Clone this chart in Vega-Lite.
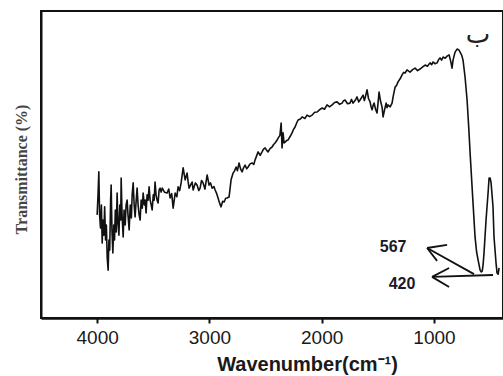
{
  "$schema": "https://vega.github.io/schema/vega-lite/v6.json",
  "width": 462,
  "height": 307,
  "autosize": {"type": "none"},
  "padding": {"left": 41, "top": 11, "right": 0, "bottom": 58},
  "background": "white",
  "config": {"view": {"stroke": "#111", "strokeWidth": 2}},
  "datasets": {
    "spectrum": [
      {"wn":4000,"t":33.6},{"wn":3992,"t":40.1},{"wn":3985,"t":47.6},{"wn":3978,"t":33.6},{"wn":3970,"t":29.3},
      {"wn":3962,"t":36.8},{"wn":3955,"t":24.4},{"wn":3948,"t":31.9},{"wn":3940,"t":27.0},{"wn":3933,"t":36.2},
      {"wn":3925,"t":25.4},{"wn":3918,"t":30.3},{"wn":3910,"t":19.5},{"wn":3902,"t":15.6},{"wn":3895,"t":25.4},
      {"wn":3888,"t":22.1},{"wn":3880,"t":38.4},{"wn":3875,"t":43.3},{"wn":3868,"t":28.7},{"wn":3860,"t":21.2},
      {"wn":3852,"t":30.3},{"wn":3845,"t":25.4},{"wn":3838,"t":35.2},{"wn":3830,"t":28.0},{"wn":3822,"t":40.7},
      {"wn":3815,"t":31.3},{"wn":3806,"t":27.0},{"wn":3798,"t":36.8},{"wn":3790,"t":31.9},{"wn":3786,"t":45.6},
      {"wn":3778,"t":33.6},{"wn":3768,"t":26.4},{"wn":3760,"t":35.2},{"wn":3750,"t":30.3},{"wn":3742,"t":36.8},
      {"wn":3733,"t":38.4},{"wn":3725,"t":33.6},{"wn":3715,"t":28.7},{"wn":3705,"t":36.8},{"wn":3695,"t":32.6},
      {"wn":3688,"t":40.1},{"wn":3679,"t":44.0},{"wn":3670,"t":36.8},{"wn":3662,"t":32.9},{"wn":3652,"t":38.4},
      {"wn":3644,"t":42.3},{"wn":3635,"t":36.8},{"wn":3626,"t":33.6},{"wn":3617,"t":31.9},{"wn":3608,"t":38.4},
      {"wn":3598,"t":35.8},{"wn":3590,"t":40.7},{"wn":3580,"t":36.8},{"wn":3572,"t":38.4},{"wn":3564,"t":34.2},
      {"wn":3555,"t":40.1},{"wn":3546,"t":38.4},{"wn":3537,"t":42.7},{"wn":3528,"t":38.4},{"wn":3518,"t":36.8},
      {"wn":3510,"t":35.2},{"wn":3500,"t":40.1},{"wn":3492,"t":38.4},{"wn":3484,"t":44.3},{"wn":3475,"t":40.1},
      {"wn":3466,"t":38.4},{"wn":3457,"t":37.5},{"wn":3448,"t":41.7},{"wn":3439,"t":42.3},{"wn":3430,"t":41.0},
      {"wn":3420,"t":42.3},{"wn":3400,"t":41.0},{"wn":3377,"t":40.7},{"wn":3362,"t":42.0},{"wn":3350,"t":39.1},
      {"wn":3336,"t":40.5},{"wn":3323,"t":35.8},{"wn":3305,"t":40.7},{"wn":3290,"t":39.5},{"wn":3279,"t":42.7},
      {"wn":3265,"t":41.5},{"wn":3252,"t":44.0},{"wn":3234,"t":48.9},{"wn":3216,"t":45.0},{"wn":3199,"t":47.2},
      {"wn":3190,"t":44.5},{"wn":3181,"t":42.3},{"wn":3165,"t":43.5},{"wn":3154,"t":44.3},{"wn":3145,"t":41.7},
      {"wn":3125,"t":44.0},{"wn":3110,"t":43.3},{"wn":3095,"t":41.5},{"wn":3083,"t":42.3},{"wn":3070,"t":44.8},
      {"wn":3056,"t":44.0},{"wn":3040,"t":42.0},{"wn":3020,"t":46.6},{"wn":3003,"t":43.3},{"wn":2990,"t":44.0},
      {"wn":2976,"t":42.3},{"wn":2960,"t":42.8},{"wn":2949,"t":41.7},{"wn":2935,"t":40.5},{"wn":2923,"t":39.1},
      {"wn":2910,"t":37.5},{"wn":2896,"t":36.2},{"wn":2882,"t":38.0},{"wn":2869,"t":37.8},{"wn":2855,"t":39.0},
      {"wn":2842,"t":39.1},{"wn":2825,"t":39.4},{"wn":2807,"t":45.0},{"wn":2789,"t":47.2},{"wn":2775,"t":48.0},
      {"wn":2762,"t":49.2},{"wn":2750,"t":48.0},{"wn":2736,"t":50.5},{"wn":2722,"t":48.5},{"wn":2709,"t":47.6},
      {"wn":2695,"t":49.0},{"wn":2682,"t":49.8},{"wn":2668,"t":48.6},{"wn":2655,"t":49.2},{"wn":2638,"t":50.2},
      {"wn":2620,"t":50.5},{"wn":2605,"t":50.0},{"wn":2593,"t":51.5},{"wn":2580,"t":52.8},{"wn":2566,"t":54.1},
      {"wn":2548,"t":53.0},{"wn":2531,"t":54.1},{"wn":2518,"t":55.0},{"wn":2504,"t":55.4},{"wn":2490,"t":54.6},
      {"wn":2477,"t":54.1},{"wn":2460,"t":55.2},{"wn":2442,"t":55.7},{"wn":2428,"t":56.5},{"wn":2415,"t":57.0},
      {"wn":2400,"t":57.8},{"wn":2388,"t":58.6},{"wn":2372,"t":59.5},{"wn":2361,"t":63.5},{"wn":2353,"t":55.4},
      {"wn":2344,"t":60.3},{"wn":2335,"t":57.0},{"wn":2326,"t":57.3},{"wn":2312,"t":57.8},{"wn":2299,"t":58.0},
      {"wn":2280,"t":59.2},{"wn":2264,"t":60.3},{"wn":2250,"t":61.5},{"wn":2237,"t":62.2},{"wn":2222,"t":63.6},
      {"wn":2210,"t":64.5},{"wn":2190,"t":64.8},{"wn":2174,"t":65.5},{"wn":2150,"t":65.0},{"wn":2130,"t":66.1},
      {"wn":2108,"t":65.6},{"wn":2085,"t":66.1},{"wn":2062,"t":67.0},{"wn":2041,"t":67.1},{"wn":2020,"t":67.8},
      {"wn":1996,"t":68.4},{"wn":1975,"t":68.0},{"wn":1952,"t":69.4},{"wn":1930,"t":68.8},{"wn":1907,"t":69.4},
      {"wn":1885,"t":70.2},{"wn":1863,"t":70.4},{"wn":1840,"t":69.6},{"wn":1818,"t":70.0},{"wn":1805,"t":70.8},
      {"wn":1792,"t":71.0},{"wn":1770,"t":69.8},{"wn":1747,"t":70.0},{"wn":1735,"t":71.2},{"wn":1720,"t":70.0},
      {"wn":1700,"t":71.0},{"wn":1685,"t":72.0},{"wn":1670,"t":70.4},{"wn":1658,"t":71.0},{"wn":1645,"t":71.8},
      {"wn":1631,"t":72.6},{"wn":1620,"t":70.8},{"wn":1613,"t":71.7},{"wn":1596,"t":74.3},{"wn":1583,"t":71.5},
      {"wn":1569,"t":70.4},{"wn":1560,"t":68.8},{"wn":1551,"t":67.8},{"wn":1542,"t":69.2},{"wn":1533,"t":70.0},
      {"wn":1520,"t":68.0},{"wn":1507,"t":66.8},{"wn":1498,"t":70.0},{"wn":1489,"t":73.6},{"wn":1475,"t":70.5},
      {"wn":1462,"t":68.7},{"wn":1453,"t":65.5},{"wn":1440,"t":67.8},{"wn":1426,"t":70.0},{"wn":1418,"t":68.5},
      {"wn":1409,"t":69.4},{"wn":1390,"t":68.8},{"wn":1373,"t":70.0},{"wn":1364,"t":72.0},{"wn":1346,"t":75.2},
      {"wn":1332,"t":75.8},{"wn":1320,"t":76.9},{"wn":1300,"t":78.0},{"wn":1284,"t":79.2},{"wn":1270,"t":80.0},
      {"wn":1257,"t":79.8},{"wn":1240,"t":80.8},{"wn":1225,"t":80.4},{"wn":1213,"t":80.1},{"wn":1190,"t":80.9},
      {"wn":1168,"t":81.4},{"wn":1146,"t":80.6},{"wn":1124,"t":81.1},{"wn":1100,"t":81.8},{"wn":1079,"t":82.4},
      {"wn":1058,"t":82.0},{"wn":1035,"t":83.1},{"wn":1020,"t":82.5},{"wn":1008,"t":83.4},{"wn":990,"t":82.8},
      {"wn":972,"t":83.1},{"wn":958,"t":84.2},{"wn":946,"t":84.7},{"wn":932,"t":84.0},{"wn":919,"t":85.0},
      {"wn":900,"t":84.6},{"wn":883,"t":85.3},{"wn":865,"t":85.7},{"wn":850,"t":83.5},{"wn":839,"t":81.4},
      {"wn":830,"t":84.0},{"wn":812,"t":86.6},{"wn":794,"t":87.6},{"wn":780,"t":87.4},{"wn":767,"t":86.6},
      {"wn":752,"t":85.5},{"wn":741,"t":84.0},{"wn":723,"t":78.5},{"wn":705,"t":71.0},{"wn":690,"t":62.0},
      {"wn":678,"t":53.7},{"wn":652,"t":37.5},{"wn":634,"t":26.4},{"wn":620,"t":21.5},{"wn":607,"t":18.9},
      {"wn":589,"t":15.6},{"wn":578,"t":15.0},{"wn":570,"t":15.3},{"wn":562,"t":17.5},{"wn":554,"t":21.2},
      {"wn":536,"t":31.9},{"wn":518,"t":40.7},{"wn":509,"t":45.6},{"wn":500,"t":45.6},{"wn":491,"t":44.0},
      {"wn":474,"t":36.2},{"wn":465,"t":26.4},{"wn":447,"t":17.9},{"wn":438,"t":14.7},{"wn":428,"t":14.3},
      {"wn":420,"t":16.3}
    ],
    "arrows": [
      {"x1":643,"y1":14.3,"x2":1061,"y2":22.8},
      {"x1":1061,"y1":22.8,"x2":883,"y2":23.8},
      {"x1":1061,"y1":22.8,"x2":972,"y2":18.6},
      {"x1":474,"y1":14.0,"x2":1017,"y2":13.4},
      {"x1":1017,"y1":13.4,"x2":865,"y2":16.3},
      {"x1":1017,"y1":13.4,"x2":865,"y2":10.1}
    ],
    "labels": [
      {"wn":1364,"t":23.1,"label":"567"},
      {"wn":1284,"t":11.1,"label":"420"}
    ]
  },
  "layer": [
    {
      "data": {"name": "spectrum"},
      "mark": {"type": "line", "color": "#111", "strokeWidth": 1.6, "strokeJoin": "round"},
      "encoding": {
        "x": {
          "field": "wn", "type": "quantitative",
          "scale": {"domain": [385, 4500], "reverse": true, "zero": false, "nice": false},
          "axis": {
            "values": [4000, 3000, 2000, 1000],
            "format": "d",
            "grid": false,
            "domain": true, "domainColor": "#111", "domainWidth": 2.5,
            "ticks": true, "tickColor": "#111", "tickWidth": 2, "tickSize": 5,
            "labelFont": "Liberation Sans", "labelFontSize": 19, "labelColor": "#1a1a1a",
            "labelBaseline": "alphabetic", "labelPadding": 20,
            "labelFlush": false,
            "title": "Wavenumber(cm⁻¹)",
            "titleFont": "Liberation Sans", "titleFontSize": 20, "titleFontWeight": "bold",
            "titleColor": "#1a1a1a", "titleX": 266, "titleY": 52, "titleBaseline": "alphabetic", "titleAlign": "center"
          }
        },
        "y": {
          "field": "t", "type": "quantitative",
          "scale": {"domain": [0, 100], "nice": false},
          "axis": {
            "grid": false, "ticks": false, "labels": false,
            "domain": true, "domainColor": "#111", "domainWidth": 2,
            "title": "Transmittance (%)",
            "titleFont": "Liberation Serif", "titleFontSize": 16, "titleFontWeight": "bold",
            "titleColor": "#444", "titleAngle": -90, "titleX": -20, "titleY": 158,
            "titleAlign": "center", "titleBaseline": "middle"
          }
        }
      }
    },
    {
      "data": {"name": "arrows"},
      "mark": {"type": "rule", "color": "#111", "strokeWidth": 1.8},
      "encoding": {
        "x": {"field": "x1", "type": "quantitative"},
        "x2": {"field": "x2"},
        "y": {"field": "y1", "type": "quantitative"},
        "y2": {"field": "y2"}
      }
    },
    {
      "data": {"name": "labels"},
      "mark": {"type": "text", "font": "Liberation Sans", "fontWeight": "bold", "fontSize": 16, "color": "#1a1a2a", "align": "center", "baseline": "middle"},
      "encoding": {
        "x": {"field": "wn", "type": "quantitative"},
        "y": {"field": "t", "type": "quantitative"},
        "text": {"field": "label"}
      }
    },
    {
      "data": {"values": [{"wn": 607, "t": 92.2, "label": "ب"}]},
      "mark": {"type": "text", "font": "DejaVu Sans", "fontSize": 26, "color": "#222", "align": "center", "baseline": "middle"},
      "encoding": {
        "x": {"field": "wn", "type": "quantitative"},
        "y": {"field": "t", "type": "quantitative"},
        "text": {"field": "label"}
      }
    }
  ]
}
